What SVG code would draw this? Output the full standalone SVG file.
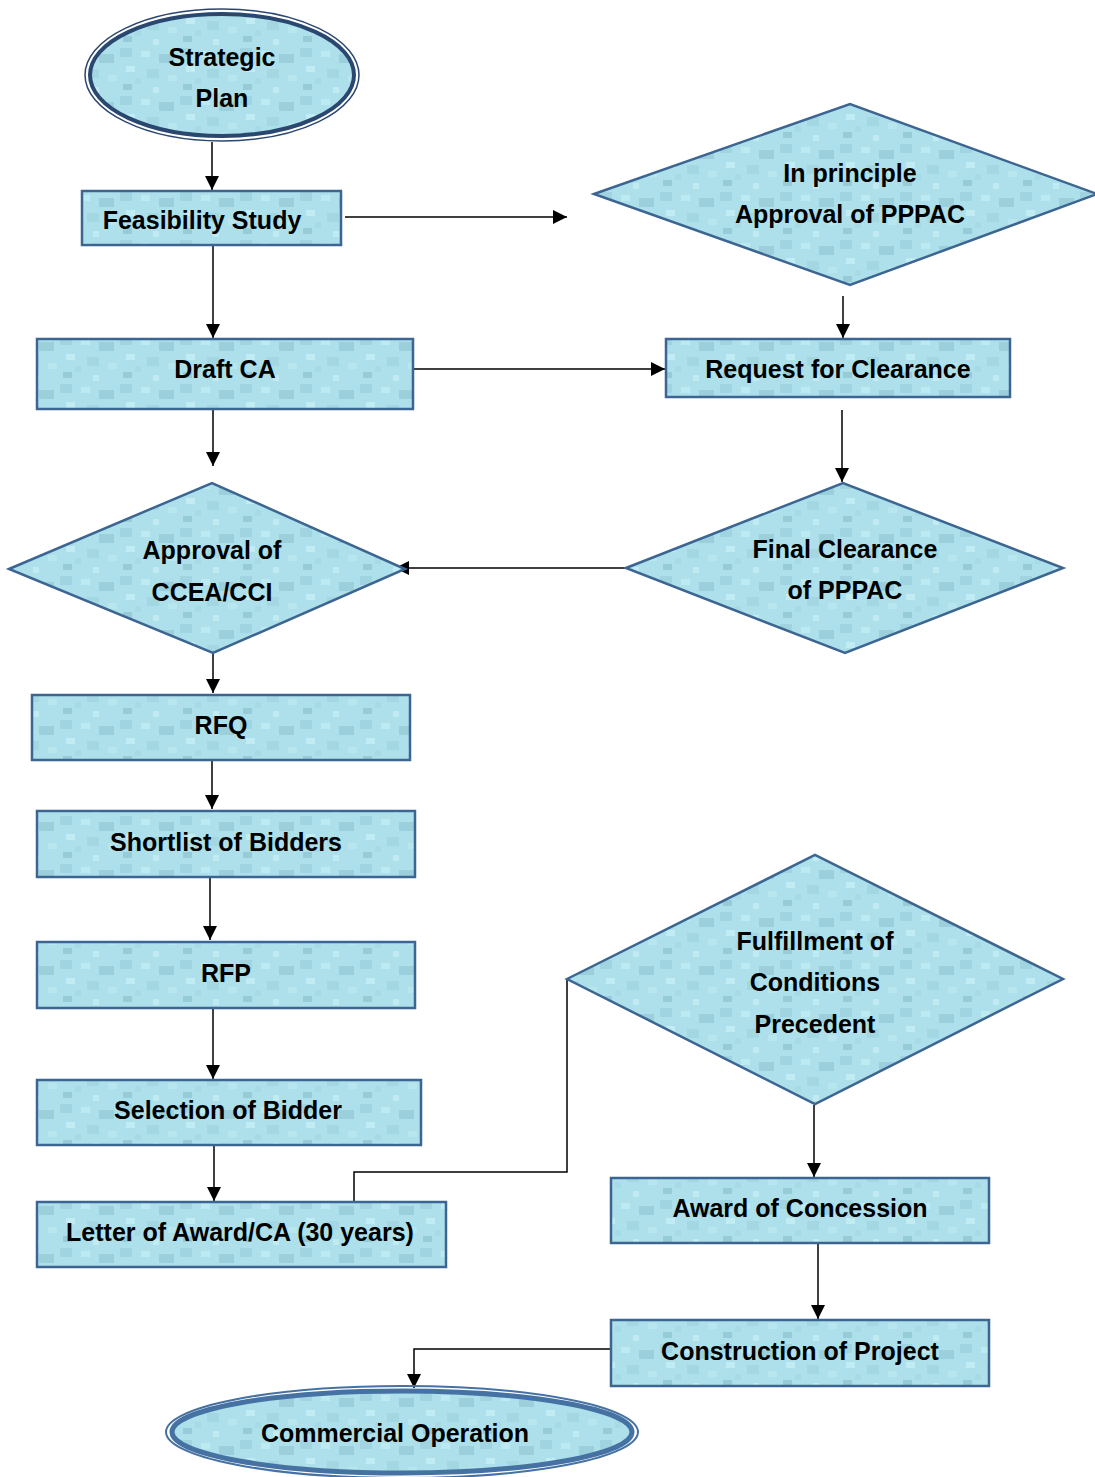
<svg xmlns="http://www.w3.org/2000/svg" width="1095" height="1477" viewBox="0 0 1095 1477">
<style>
.lbl{font-family:"Liberation Sans",Arial,sans-serif;font-weight:bold;font-size:25px;fill:#000;text-anchor:middle;dominant-baseline:central}
.box{fill:url(#tex);stroke:#3d6592;stroke-width:2.5}
.dia{fill:url(#tex);stroke:#3d6592;stroke-width:2.5}
.con{fill:none;stroke:#000;stroke-width:1.5}
</style>
<defs>
<pattern id="tex" width="60" height="48" patternUnits="userSpaceOnUse">
<rect width="60" height="48" fill="#ade0ea"/>
<rect x="0" y="0" width="12" height="9" fill="#a0d4e0"/>
<rect x="21" y="3" width="9" height="6" fill="#bde9f1"/>
<rect x="39" y="6" width="15" height="9" fill="#9bcfdc"/>
<rect x="6" y="18" width="9" height="6" fill="#c2ecf3"/>
<rect x="27" y="21" width="12" height="9" fill="#a3d7e2"/>
<rect x="48" y="27" width="9" height="6" fill="#b8e6ef"/>
<rect x="3" y="36" width="9" height="6" fill="#96cbd8"/>
<rect x="33" y="39" width="6" height="6" fill="#c0ebf2"/>
<rect x="15" y="30" width="6" height="6" fill="#a7dae4"/>
</pattern>
<marker id="ah" viewBox="0 0 14 14" refX="14" refY="7" markerWidth="15" markerHeight="14" markerUnits="userSpaceOnUse" orient="auto">
<path d="M0,0 L14,7 L0,14 Z" fill="#000"/>
</marker>
</defs>

<g id="connectors">
<line class="con" x1="212" y1="142" x2="212" y2="190" marker-end="url(#ah)"/>
<line class="con" x1="345" y1="217" x2="567" y2="217" marker-end="url(#ah)"/>
<line class="con" x1="213" y1="246" x2="213" y2="338" marker-end="url(#ah)"/>
<line class="con" x1="843" y1="296" x2="843" y2="338" marker-end="url(#ah)"/>
<line class="con" x1="414" y1="369" x2="665" y2="369" marker-end="url(#ah)"/>
<line class="con" x1="842" y1="410" x2="842" y2="482" marker-end="url(#ah)"/>
<line class="con" x1="213" y1="410" x2="213" y2="466" marker-end="url(#ah)"/>
<line class="con" x1="646" y1="568" x2="395" y2="568" marker-end="url(#ah)"/>
<line class="con" x1="213" y1="654" x2="213" y2="693" marker-end="url(#ah)"/>
<line class="con" x1="212" y1="761" x2="212" y2="809" marker-end="url(#ah)"/>
<line class="con" x1="210" y1="878" x2="210" y2="940" marker-end="url(#ah)"/>
<line class="con" x1="213" y1="1009" x2="213" y2="1079" marker-end="url(#ah)"/>
<line class="con" x1="214" y1="1146" x2="214" y2="1201" marker-end="url(#ah)"/>
<polyline class="con" points="354,1202 354,1172 567,1172 567,979"/>
<line class="con" x1="814" y1="1105" x2="814" y2="1177" marker-end="url(#ah)"/>
<line class="con" x1="818" y1="1244" x2="818" y2="1319" marker-end="url(#ah)"/>
<polyline class="con" points="611,1349 414,1349 414,1388" marker-end="url(#ah)"/>
</g>

<g id="strategic-plan">
<ellipse cx="222" cy="75" rx="137" ry="66" fill="none" stroke="#2a4770" stroke-width="1.5"/>
<ellipse cx="222" cy="75" rx="132" ry="61" fill="url(#tex)" stroke="#2a4770" stroke-width="4"/>
<text class="lbl" x="222" y="57">Strategic</text>
<text class="lbl" x="222" y="98">Plan</text>
</g>

<g id="feasibility-study">
<rect class="box" x="82" y="191" width="259" height="54"/>
<text class="lbl" x="202" y="220">Feasibility Study</text>
</g>

<g id="in-principle-approval">
<polygon class="dia" points="594,194 850,104 1097,194 850,285"/>
<text class="lbl" x="850" y="173">In principle</text>
<text class="lbl" x="850" y="214">Approval of PPPAC</text>
</g>

<g id="draft-ca">
<rect class="box" x="37" y="339" width="376" height="70"/>
<text class="lbl" x="225" y="369">Draft CA</text>
</g>

<g id="request-for-clearance">
<rect class="box" x="666" y="339" width="344" height="58"/>
<text class="lbl" x="838" y="369">Request for Clearance</text>
</g>

<g id="approval-ccea">
<polygon class="dia" points="9,569 212,483 405,569 213,653"/>
<text class="lbl" x="212" y="550">Approval of</text>
<text class="lbl" x="212" y="592">CCEA/CCI</text>
</g>

<g id="final-clearance">
<polygon class="dia" points="626,568 843,483 1063,568 845,653"/>
<text class="lbl" x="845" y="549">Final Clearance</text>
<text class="lbl" x="845" y="590">of PPPAC</text>
</g>

<g id="rfq">
<rect class="box" x="32" y="695" width="378" height="65"/>
<text class="lbl" x="221" y="725">RFQ</text>
</g>

<g id="shortlist">
<rect class="box" x="37" y="811" width="378" height="66"/>
<text class="lbl" x="226" y="842">Shortlist of Bidders</text>
</g>

<g id="rfp">
<rect class="box" x="37" y="942" width="378" height="66"/>
<text class="lbl" x="226" y="973">RFP</text>
</g>

<g id="selection">
<rect class="box" x="37" y="1080" width="384" height="65"/>
<text class="lbl" x="228" y="1110">Selection of Bidder</text>
</g>

<g id="letter-of-award">
<rect class="box" x="37" y="1202" width="409" height="65"/>
<text class="lbl" x="240" y="1232">Letter of Award/CA (30 years)</text>
</g>

<g id="fulfillment">
<polygon class="dia" points="567,979 815,855 1063,979 815,1104"/>
<text class="lbl" x="815" y="941">Fulfillment of</text>
<text class="lbl" x="815" y="982">Conditions</text>
<text class="lbl" x="815" y="1024">Precedent</text>
</g>

<g id="award-of-concession">
<rect class="box" x="611" y="1178" width="378" height="65"/>
<text class="lbl" x="800" y="1208">Award of Concession</text>
</g>

<g id="construction">
<rect class="box" x="611" y="1320" width="378" height="66"/>
<text class="lbl" x="800" y="1351">Construction of Project</text>
</g>

<g id="commercial-operation">
<ellipse cx="402" cy="1432" rx="236" ry="46" fill="none" stroke="#4572a3" stroke-width="2"/>
<ellipse cx="402" cy="1432" rx="230" ry="41" fill="url(#tex)" stroke="#4572a3" stroke-width="5"/>
<text class="lbl" x="395" y="1433">Commercial Operation</text>
</g>
</svg>
